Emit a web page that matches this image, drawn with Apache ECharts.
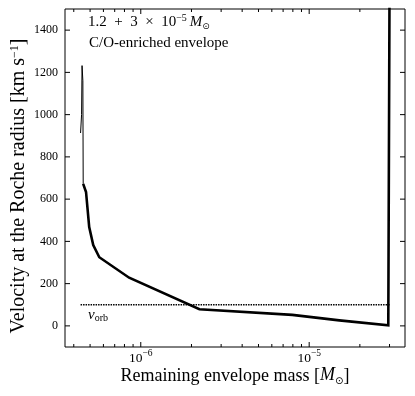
<!DOCTYPE html>
<html>
<head>
<meta charset="utf-8">
<script src="https://cdn.jsdelivr.net/npm/echarts@6/dist/echarts.min.js"></script>
<style>
  html, body { margin: 0; background: #fff; }
  #chart { width: 415px; height: 396px; }
</style>
</head>
<body>
<div id="chart"></div>
<script>
// envelope mass [Msun] vs velocity at the Roche radius [km/s]
const massThin = [4.39e-7, 4.45e-7, 4.48e-7, 4.53e-7, 4.55e-7]
const velThin = [913, 1000, 1232, 1160, 672]
const massThick = [4.55e-7, 4.73e-7, 4.94e-7, 5.22e-7, 5.67e-7, 8.53e-7, 2.23e-6, 7.94e-6, 1.51e-5, 2.95e-5, 3.0e-5, 3.0e-5]
const velThick = [672, 634, 468, 383, 325, 228, 79, 52, 26, 3, 3, 1600]
const massOrb = [4.39e-7, 3.0e-5]
const velOrb = [100, 100]

const xMajor = [1e-6, 1e-5]
const xMajorLabels = ['−6', '−5']
const xMinor = [4e-7, 5e-7, 6e-7, 7e-7, 8e-7, 9e-7,
  2e-6, 3e-6, 4e-6, 5e-6, 6e-6, 7e-6, 8e-6, 9e-6, 2e-5, 3e-5]
const yTicks = [0, 200, 400, 600, 800, 1000, 1200, 1400]

const FONT = "'Liberation Serif', 'DejaVu Serif', serif"
const lg = (m) => Math.log10(m)
const pairs = (xs, ys) => xs.map((m, i) => [lg(m), ys[i]])

const xTickData = [
  ...xMajor.map((m, i) => [lg(m), 1, i]),
  ...xMinor.map((m) => [lg(m), 0, -1]),
]

function renderXTick(params, api) {
  const cs = params.coordSys
  const x = api.coord([api.value(0), 0])[0]
  const major = api.value(1) === 1
  const len = major ? 5 : 3
  const yb = cs.y + cs.height
  const yt = cs.y
  const children = [
    { type: 'line', shape: { x1: x, y1: yb, x2: x, y2: yb - len }, style: { stroke: '#000', lineWidth: 1 } },
    { type: 'line', shape: { x1: x, y1: yt, x2: x, y2: yt + len }, style: { stroke: '#000', lineWidth: 1 } },
  ]
  if (major) {
    children.push({
      type: 'text', x: x, y: yb + 1,
      style: {
        text: '{b|10}{s|' + xMajorLabels[api.value(2)] + '}',
        align: 'center', verticalAlign: 'top', fill: '#000',
        rich: {
          b: { fontFamily: FONT, fontSize: 13.5, lineHeight: 17, verticalAlign: 'bottom' },
          s: { fontFamily: FONT, fontSize: 9.5, verticalAlign: 'top' },
        },
      },
    })
  }
  return { type: 'group', children }
}

function renderYTick(params, api) {
  const cs = params.coordSys
  const y = api.coord([-6, api.value(0)])[1]
  const xl = cs.x
  const xr = cs.x + cs.width
  return {
    type: 'group',
    children: [
      { type: 'line', shape: { x1: xl, y1: y, x2: xl + 5, y2: y }, style: { stroke: '#000', lineWidth: 1 } },
      { type: 'line', shape: { x1: xr, y1: y, x2: xr - 5, y2: y }, style: { stroke: '#000', lineWidth: 1 } },
      {
        type: 'text', x: xl - 7, y: y,
        style: { text: String(api.value(0)), font: '12px ' + FONT, fill: '#000', align: 'right', verticalAlign: 'middle' },
      },
    ],
  }
}

const chart = echarts.init(document.getElementById('chart'))
chart.setOption({
  animation: false,
  grid: {
    left: 65, right: 10, top: 9, bottom: 49,
    outerBoundsMode: 'none', containLabel: false,
    show: true, borderColor: '#000', borderWidth: 1,
  },
  xAxis: {
    type: 'value', min: -6.45, max: -4.431,
    axisLine: { show: false }, axisTick: { show: false }, axisLabel: { show: false }, splitLine: { show: false },
    name: 'Remaining envelope mass [{i|M}{sub|⊙}]',
    nameLocation: 'middle', nameGap: 19,
    nameTextStyle: {
      fontFamily: FONT, fontSize: 18, color: '#000',
      rich: {
        i: { fontFamily: FONT, fontSize: 18, fontStyle: 'italic', color: '#000', lineHeight: 20, verticalAlign: 'top' },
        sub: { fontFamily: 'DejaVu Sans', fontSize: 10, color: '#000', verticalAlign: 'bottom' },
      },
    },
  },
  yAxis: {
    type: 'value', min: -100, max: 1500,
    axisLine: { show: false }, axisTick: { show: false }, axisLabel: { show: false }, splitLine: { show: false },
    name: 'Velocity at the Roche radius [km s{sup|−1}]',
    nameLocation: 'middle', nameGap: 36, nameRotate: 90,
    nameTextStyle: {
      fontFamily: FONT, fontSize: 20, color: '#000', padding: [0, 16, 0, 0],
      rich: {
        sup: { fontFamily: FONT, fontSize: 12, color: '#000', verticalAlign: 'top' },
      },
    },
  },
  graphic: [
    {
      type: 'text', left: 88, top: 13,
      style: {
        text: '1.2\u2002+\u20023\u2002×\u200210{sup|−5}\u2009{i|M}{sub|⊙}',
        font: '15px ' + FONT, fill: '#000',
        rich: {
          sup: { fontFamily: FONT, fontSize: 10, verticalAlign: 'top' },
          i: { fontFamily: FONT, fontSize: 15, fontStyle: 'italic', lineHeight: 18 },
          sub: { fontFamily: 'DejaVu Sans', fontSize: 9, verticalAlign: 'bottom' },
        },
      },
    },
    {
      type: 'text', left: 89, top: 36,
      style: { text: 'C/O-enriched envelope', font: '15px ' + FONT, fill: '#000' },
    },
    {
      type: 'text', left: 88, top: 308,
      style: {
        text: '{i|v}{sub|orb}',
        rich: {
          i: { fontFamily: FONT, fontSize: 15, fontStyle: 'italic', lineHeight: 16 },
          sub: { fontFamily: FONT, fontSize: 10, verticalAlign: 'bottom' },
        },
      },
    },
  ],
  series: [
    {
      type: 'line', data: pairs(massOrb, velOrb), symbol: 'none',
      lineStyle: { color: '#000', width: 1.5, type: [1.5, 1] },
    },
    {
      type: 'line', data: pairs(massThin, velThin), symbol: 'none',
      lineStyle: { color: '#000', width: 1 },
    },
    {
      type: 'line', data: pairs(massThick, velThick), symbol: 'none', clip: true,
      lineStyle: { color: '#000', width: 2.6, join: 'miter' },
    },
    { type: 'custom', data: xTickData, renderItem: renderXTick, silent: true, z: 5 },
    { type: 'custom', data: yTicks.map((v) => [v]), renderItem: renderYTick, silent: true, z: 5, encode: { y: 0 } },
  ],
})
</script>
</body>
</html>
